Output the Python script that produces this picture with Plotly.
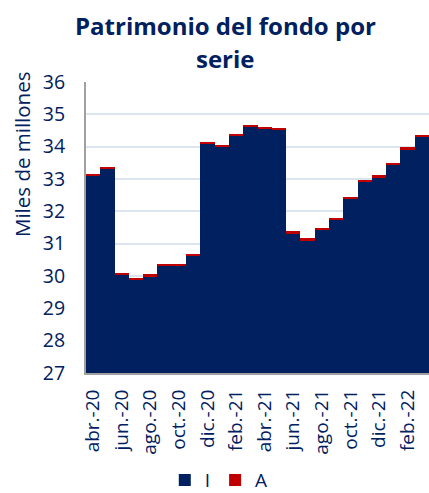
import plotly.graph_objects as go

months = ["abr.-20", "may.-20", "jun.-20", "jul.-20", "ago.-20", "sept.-20", "oct.-20", "nov.-20",
          "dic.-20", "ene.-21", "feb.-21", "mar.-21", "abr.-21", "may.-21", "jun.-21", "jul.-21",
          "ago.-21", "sept.-21", "oct.-21", "nov.-21", "dic.-21", "ene.-22", "feb.-22", "mar.-22"]
serie_I = [33.12, 33.32, 30.04, 29.88, 29.99, 30.31, 30.31, 30.63,
           34.09, 34.00, 34.34, 34.62, 34.56, 34.52, 31.32, 31.10,
           31.43, 31.74, 32.39, 32.92, 33.05, 33.44, 33.92, 34.30]
serie_A = [0.04, 0.04, 0.04, 0.06, 0.06, 0.06, 0.06, 0.06,
           0.06, 0.06, 0.06, 0.06, 0.06, 0.06, 0.06, 0.06,
           0.06, 0.06, 0.06, 0.06, 0.06, 0.06, 0.06, 0.06]
tick_labels = months[::2]
title_lines = ["Patrimonio del fondo por", "serie"]
y_title = "Miles de millones"

navy = "#002060"
fig = go.Figure()
fig.add_trace(go.Bar(x=months, y=serie_I, name="I", marker=dict(color=navy, line=dict(width=0))))
fig.add_trace(go.Bar(x=months, y=serie_A, name="A", marker=dict(color="#C00000", line=dict(width=0))))

for i, line in enumerate(title_lines):
    fig.add_annotation(text="<b>%s</b>" % line, xref="paper", yref="paper",
                       x=(225 - 86) / 343, y=1 + (82 - 25 - 33 * i) / 291,
                       xanchor="center", yanchor="middle", showarrow=False,
                       font=dict(size=24, color=navy, family="Open Sans"))

fig.add_annotation(text=y_title, xref="paper", yref="paper", textangle=-90,
                   x=(22 - 86) / 343, y=1 - (155 - 82) / 291,
                   xanchor="center", yanchor="middle", showarrow=False,
                   font=dict(size=20.5, color=navy, family="Open Sans"))

fig.update_layout(
    width=429, height=493,
    barmode="stack", bargap=0,
    plot_bgcolor="white", paper_bgcolor="white",
    margin=dict(l=86, r=0, t=82, b=120, autoexpand=False),
    font=dict(family="Open Sans", color=navy),
    showlegend=True,
    legend=dict(orientation="h", x=0.51, xanchor="center", xref="container", y=0.026, yanchor="middle",
                yref="container", font=dict(size=19, color=navy), traceorder="normal",
                itemwidth=30),
    yaxis=dict(range=[27, 36], dtick=1, showgrid=True, gridcolor="#DCE4F0", gridwidth=1.5,
               showline=True, linecolor="#A0A0A0", linewidth=2, automargin=False,
               ticks="outside", ticklen=15, tickcolor="rgba(0,0,0,0)",
               tickfont=dict(size=19.5, color=navy)),
    xaxis=dict(type="category", tickmode="array", tickvals=tick_labels, ticktext=tick_labels,
               tickangle=-90, tickfont=dict(size=19, color=navy), showline=True, automargin=False,
               linecolor="#A0A0A0", linewidth=2,
               ticks="outside", ticklen=7, tickcolor="rgba(0,0,0,0)"),
)

fig.write_html("out.html", config={"displayModeBar": False},
               post_script="document.body.style.margin='0';document.body.style.overflow='hidden';")
